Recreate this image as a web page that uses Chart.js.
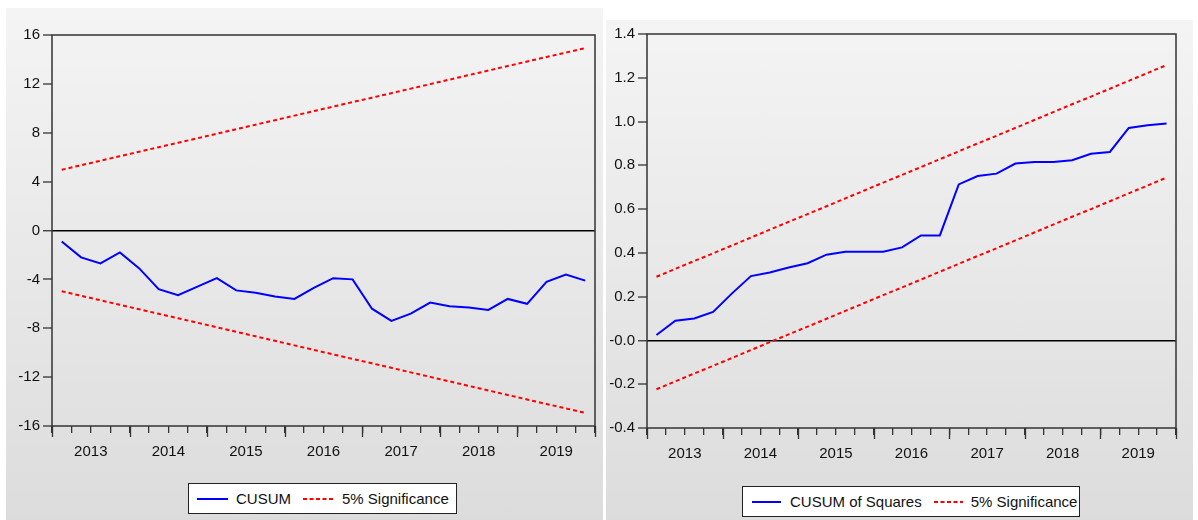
<!DOCTYPE html>
<html>
<head>
<meta charset="utf-8">
<script src="https://cdn.jsdelivr.net/npm/chart.js@4.4.1/dist/chart.umd.min.js"></script>
<style>
  html, body { margin: 0; padding: 0; background: #fff; width: 1198px; height: 520px; overflow: hidden;
    font-family: "Liberation Sans", Arial, sans-serif; }
  .panel { position: absolute; background: linear-gradient(#f4f4f4, #dcdcdc); }
  #p1 { left: 6px; top: 8px; width: 597px; height: 512px; }
  #p2 { left: 606px; top: 20px; width: 587px; height: 500px; }
  .panel canvas { position: absolute; left: 0; top: 0; }
  .legend { position: absolute; background: #fff; border: 1.5px solid #222; box-sizing: border-box;
    display: flex; align-items: center; font-size: 15px; color: #111; white-space: nowrap; height: 31px; }
  .legend svg { display: block; flex: none; }
  #lg1 { left: 182px; top: 475px; width: 269px; }
  #lg2 { left: 136px; top: 466px; width: 338px; }
</style>
</head>
<body>
<div class="panel" id="p1">
  <canvas id="c1" width="597" height="470"></canvas>
  <div class="legend" id="lg1">
    <svg width="31" height="4" style="margin-left:8px;margin-right:8px"><line x1="0" y1="2" x2="31" y2="2" stroke="#0000ff" stroke-width="2"/></svg>
    <span>CUSUM</span>
    <svg width="31" height="4" style="margin-left:12px;margin-right:8px"><line x1="0" y1="2" x2="31" y2="2" stroke="#ff0000" stroke-width="2" stroke-dasharray="4 2.5"/></svg>
    <span>5% Significance</span>
  </div>
</div>
<div class="panel" id="p2">
  <canvas id="c2" width="587" height="460"></canvas>
  <div class="legend" id="lg2">
    <svg width="29" height="4" style="margin-left:9px;margin-right:9px"><line x1="0" y1="2" x2="29" y2="2" stroke="#0000ff" stroke-width="2"/></svg>
    <span>CUSUM of Squares</span>
    <svg width="29" height="4" style="margin-left:12px;margin-right:8px"><line x1="0" y1="2" x2="29" y2="2" stroke="#ff0000" stroke-width="2" stroke-dasharray="4 2.5"/></svg>
    <span>5% Significance</span>
  </div>
</div>
<script>
// Quarterly observations, 2013Q1 - 2019Q4
const quarters = [
  '2013Q1','2013Q2','2013Q3','2013Q4','2014Q1','2014Q2','2014Q3','2014Q4',
  '2015Q1','2015Q2','2015Q3','2015Q4','2016Q1','2016Q2','2016Q3','2016Q4',
  '2017Q1','2017Q2','2017Q3','2017Q4','2018Q1','2018Q2','2018Q3','2018Q4',
  '2019Q1','2019Q2','2019Q3','2019Q4'
];
const years = ['2013','2014','2015','2016','2017','2018','2019'];

// CUSUM test statistic and its 5% bounds
const cusum = [-0.9, -2.2, -2.7, -1.8, -3.1, -4.8, -5.3, -4.6, -3.9, -4.9, -5.1, -5.4, -5.6, -4.7,
               -3.9, -4.0, -6.4, -7.4, -6.8, -5.9, -6.2, -6.3, -6.5, -5.6, -6.0, -4.2, -3.6, -4.1];
const cusumUpper = [4.97, 5.34, 5.71, 6.08, 6.45, 6.82, 7.18, 7.55, 7.92, 8.29, 8.66, 9.03, 9.40, 9.77,
                    10.14, 10.51, 10.87, 11.24, 11.61, 11.98, 12.35, 12.72, 13.09, 13.46, 13.83, 14.20, 14.56, 14.93];
const cusumLower = [-4.97, -5.34, -5.71, -6.08, -6.45, -6.82, -7.18, -7.55, -7.92, -8.29, -8.66, -9.03, -9.40, -9.77,
                    -10.14, -10.51, -10.87, -11.24, -11.61, -11.98, -12.35, -12.72, -13.09, -13.46, -13.83, -14.20, -14.56, -14.93];

// CUSUM of squares and its 5% bounds
const cusumSq = [0.025, 0.09, 0.10, 0.13, 0.215, 0.294, 0.31, 0.333, 0.353, 0.392, 0.405, 0.405, 0.405, 0.425,
                 0.48, 0.48, 0.713, 0.751, 0.762, 0.808, 0.815, 0.815, 0.823, 0.853, 0.861, 0.971, 0.983, 0.991];
const sqUpper = [0.291, 0.327, 0.363, 0.398, 0.434, 0.470, 0.506, 0.542, 0.577, 0.613, 0.649, 0.685, 0.721, 0.756,
                 0.792, 0.828, 0.864, 0.900, 0.935, 0.971, 1.007, 1.043, 1.079, 1.114, 1.150, 1.186, 1.222, 1.258];
const sqLower = [-0.223, -0.187, -0.151, -0.116, -0.080, -0.044, -0.008, 0.028, 0.063, 0.099, 0.135, 0.171, 0.207, 0.242,
                 0.278, 0.314, 0.350, 0.386, 0.421, 0.457, 0.493, 0.529, 0.565, 0.600, 0.636, 0.672, 0.708, 0.744];

const INK = '#111';
const FRAME = '#333';
const FONT = { family: '"Liberation Sans", Arial, sans-serif', size: 15 };

// Box round the plot area plus longer tick marks at the year boundaries
const framePlugin = {
  id: 'frame',
  afterDraw(chart) {
    const { ctx, chartArea: a, scales } = chart;
    ctx.save();
    ctx.strokeStyle = FRAME;
    ctx.lineWidth = 1.5;
    ctx.strokeRect(a.left, a.top, a.right - a.left, a.bottom - a.top);
    const x = scales.x;
    ctx.lineWidth = 1.3;
    for (let k = 0; k <= years.length; k++) {
      const px = Math.round(x.getPixelForValue(k * 4 - 0.5)) + 0.5;
      ctx.beginPath();
      ctx.moveTo(px, a.bottom);
      ctx.lineTo(px, a.bottom + 11);
      ctx.stroke();
    }
    ctx.restore();
  }
};

function makeChart(id, cfg) {
  const line = (data, color, dash) => ({
    data, borderColor: color, borderWidth: 2, borderDash: dash || [],
    pointRadius: 0, tension: 0, fill: false
  });
  return new Chart(document.getElementById(id), {
    type: 'line',
    data: {
      labels: quarters,
      datasets: [
        line(cfg.upper, '#ff0000', [4, 3]),
        line(cfg.lower, '#ff0000', [4, 3]),
        line(cfg.stat, '#0000ff')
      ]
    },
    options: {
      responsive: false,
      animation: false,
      devicePixelRatio: 1,
      layout: { padding: cfg.padding },
      plugins: { legend: { display: false }, tooltip: { enabled: false } },
      scales: {
        x: {
          type: 'category',
          offset: true,
          border: { display: false },
          grid: { display: true, offset: true, drawOnChartArea: false, drawTicks: true,
                  tickLength: 7, color: FRAME, lineWidth: 1.3 },
          ticks: {
            autoSkip: false, maxRotation: 0, minRotation: 0, padding: 10,
            labelOffset: cfg.labelOffset, color: INK, font: FONT,
            callback: (v, i) => (i % 4 === 1 ? quarters[i].slice(0, 4) : '')
          },
          afterFit: s => { s.height = 52; }
        },
        y: {
          min: cfg.min, max: cfg.max,
          border: { display: false },
          grid: {
            drawTicks: true, tickLength: 9, tickColor: FRAME, tickWidth: 1.3,
            color: c => (Math.abs(c.tick.value) < 1e-9 ? '#000' : 'rgba(0,0,0,0)'),
            lineWidth: c => (Math.abs(c.tick.value) < 1e-9 ? 1.5 : 0)
          },
          ticks: { stepSize: cfg.step, padding: 3, color: INK, font: FONT, callback: cfg.fmt },
          afterFit: s => { s.width = cfg.yWidth; }
        }
      }
    },
    plugins: [framePlugin]
  });
}

makeChart('c1', {
  stat: cusum, upper: cusumUpper, lower: cusumLower,
  min: -16, max: 16, step: 4, fmt: v => String(Math.round(v)),
  yWidth: 46, padding: { top: 27, right: 8, left: 0, bottom: 0 }, labelOffset: 9.7
});

makeChart('c2', {
  stat: cusumSq, upper: sqUpper, lower: sqLower,
  min: -0.4, max: 1.4, step: 0.2, fmt: v => v.toFixed(1),
  yWidth: 41, padding: { top: 14, right: 17, left: 0, bottom: 0 }, labelOffset: 9.45
});
</script>
</body>
</html>
